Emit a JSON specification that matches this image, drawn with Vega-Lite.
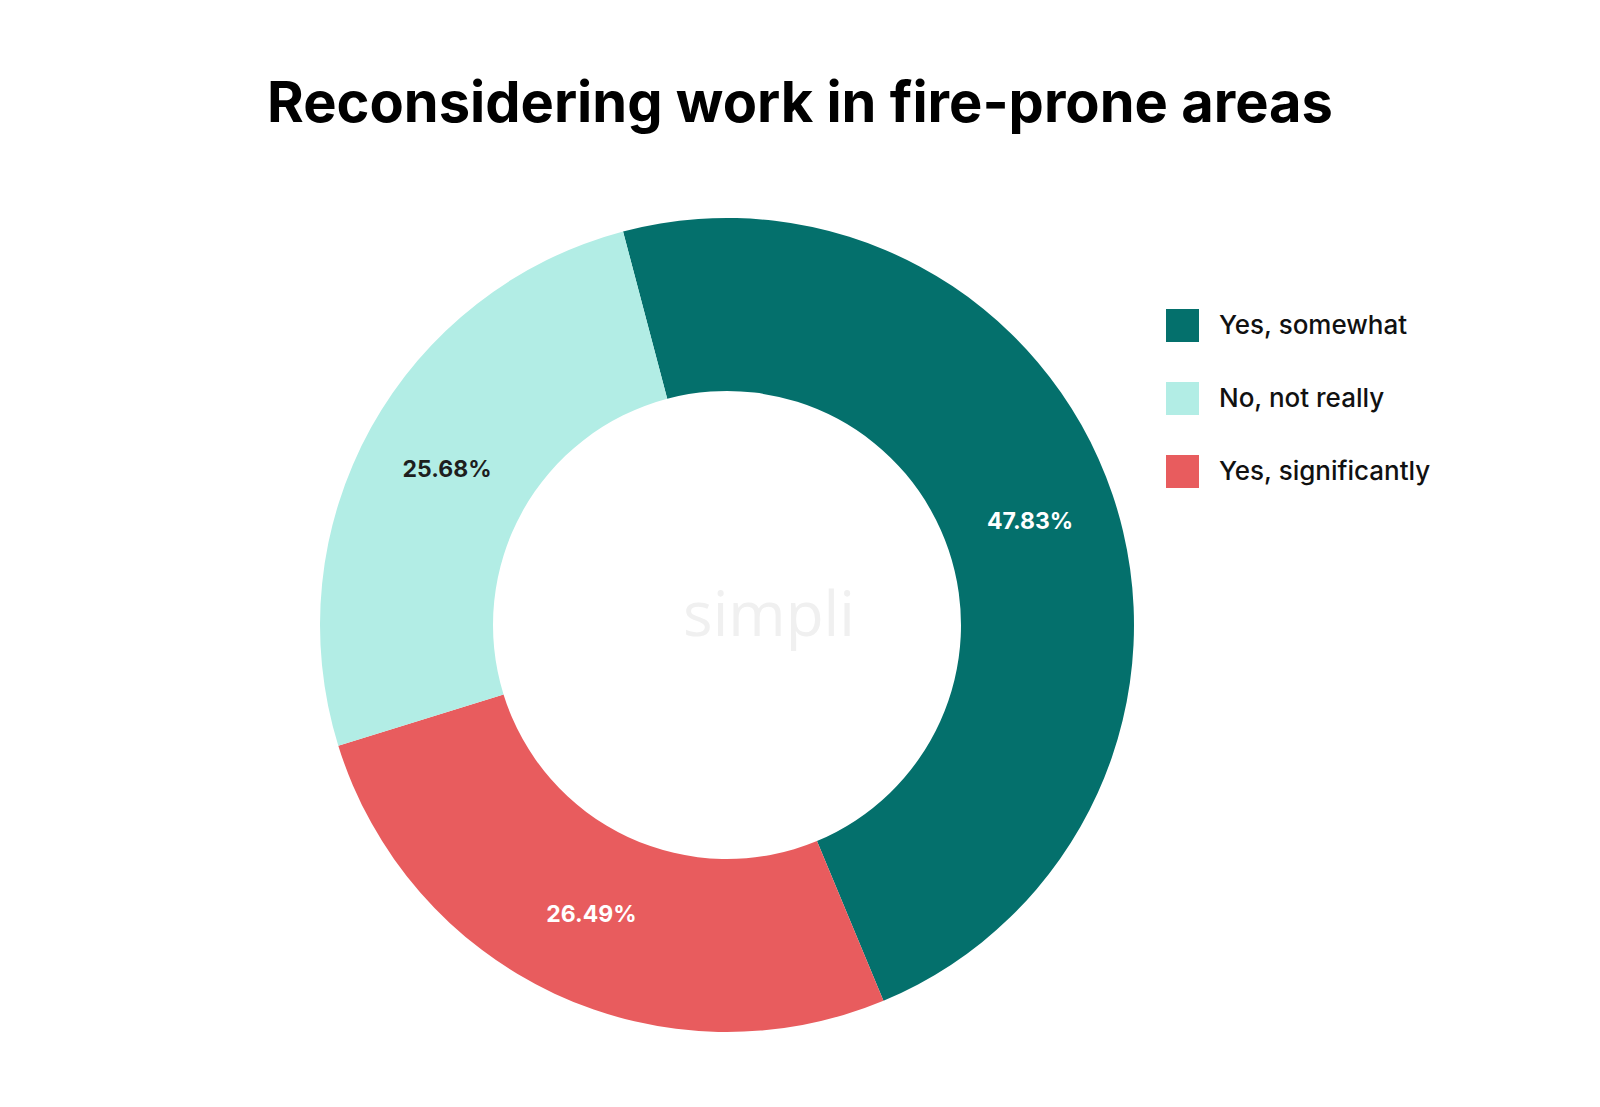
{
  "$schema": "https://vega.github.io/schema/vega-lite/v6.json",
  "width": 1454,
  "height": 950,
  "autosize": {"type": "none"},
  "padding": {"left": 0, "top": 150, "right": 0, "bottom": 0},
  "background": "white",
  "config": {"view": {"stroke": null}},
  "title": {
    "text": "Reconsidering work in fire-prone areas",
    "font": "Inter",
    "fontSize": 56,
    "fontWeight": "bold",
    "color": "#000000",
    "anchor": "middle",
    "frame": "group",
    "baseline": "alphabetic",
    "offset": -28,
    "dx": 73
  },
  "layer": [
    {
      "data": {"values": [{"label": "simpli"}]},
      "mark": {"type": "text", "font": "Open Sans", "fontSize": 62, "color": "#f0f0f0", "dx": 42, "dy": -8},
      "encoding": {"text": {"field": "label"}}
    },
    {
      "data": {
        "values": [
          {"answer": "Yes, somewhat", "pct": 47.83, "ord": 1, "text": "47.83%"},
          {"answer": "Yes, significantly", "pct": 26.49, "ord": 2, "text": "26.49%"},
          {"answer": "No, not really", "pct": 25.68, "ord": 3, "text": "25.68%"}
        ]
      },
      "encoding": {
        "theta": {"field": "pct", "type": "quantitative", "stack": true, "scale": {"range": [-0.2583, 6.0249]}},
        "order": {"field": "ord", "type": "quantitative"}
      },
      "layer": [
        {
          "mark": {"type": "arc", "innerRadius": 234, "outerRadius": 407, "stroke": null},
          "encoding": {
            "color": {
              "field": "answer",
              "type": "nominal",
              "scale": {
                "domain": ["Yes, somewhat", "No, not really", "Yes, significantly"],
                "range": ["#04706c", "#b2ede5", "#e85c5e"]
              },
              "legend": {
                "title": null,
                "orient": "none",
                "legendX": 1166,
                "legendY": 159,
                "symbolType": "square",
                "symbolSize": 1089,
                "symbolStrokeWidth": 0,
                "symbolOpacity": 1,
                "labelFont": "Inter",
                "labelFontSize": 26,
                "labelFontWeight": 500,
                "labelColor": "#111111",
                "labelOffset": 20,
                "rowPadding": 40,
                "labelLimit": 400
              }
            }
          }
        },
        {
          "mark": {"type": "text", "radius": 320, "font": "Inter", "fontSize": 23, "fontWeight": "bold"},
          "encoding": {
            "text": {"field": "text"},
            "color": {
              "condition": {"test": "datum.answer === 'No, not really'", "value": "#1e1e1e"},
              "value": "#ffffff"
            }
          }
        }
      ]
    }
  ]
}
